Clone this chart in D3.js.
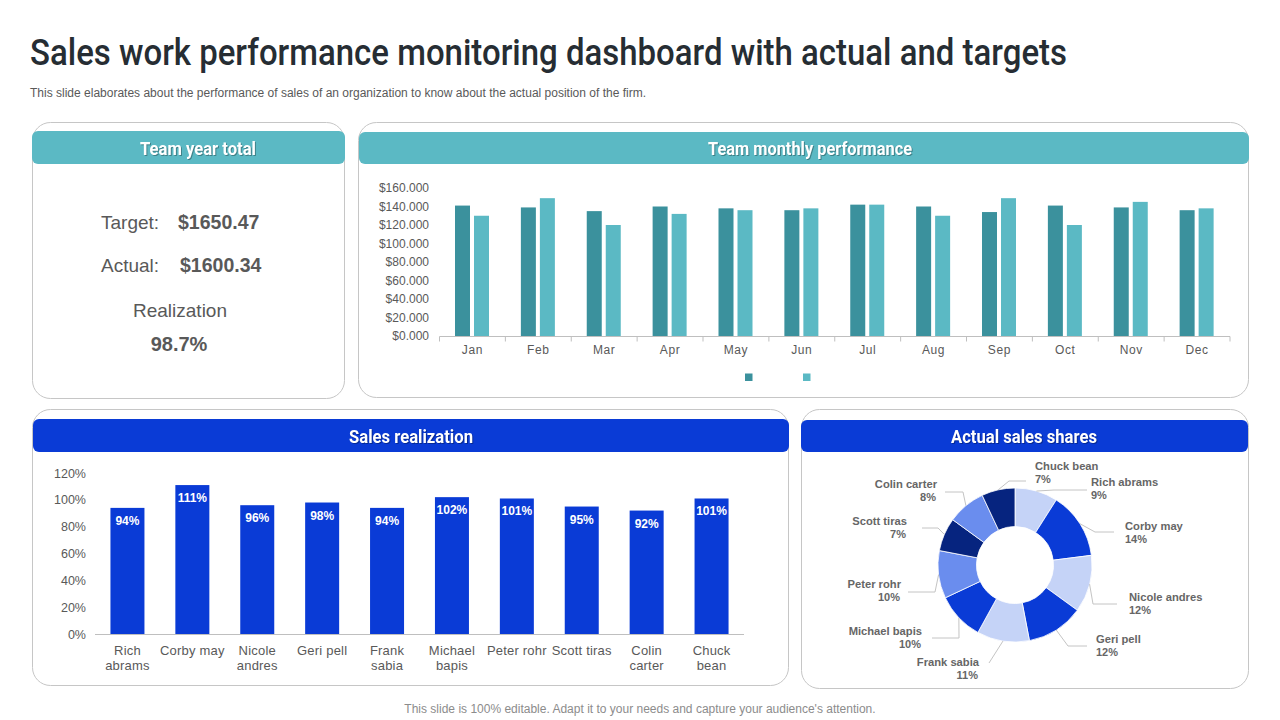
<!DOCTYPE html>
<html>
<head>
<meta charset="utf-8">
<script src="https://cdn.jsdelivr.net/npm/d3@7"></script>
<style>
	html, body { margin: 0; padding: 0; background: #fff; }
	svg { display: block; }
	text { font-family: "Liberation Sans", Arial, sans-serif; }
	.heading { font-family: Roboto, sans-serif; }
	.axis text { fill: #595959; }
	.axis .domain { stroke: #bfbfbf; }
</style>
</head>
<body>
<svg id="slide" width="1280" height="720"></svg>
<script>
// Monthly performance, in thousands
var months = ["Jan", "Feb", "Mar", "Apr", "May", "Jun", "Jul", "Aug", "Sep", "Oct", "Nov", "Dec"];
var targetValues = [141, 139, 135, 140, 138, 136, 142, 140, 134, 141, 139, 136];
var actualValues = [130, 149, 120, 132, 136, 138, 142, 130, 149, 120, 145, 138];
var monthlyTicks = [0, 20, 40, 60, 80, 100, 120, 140, 160];

// Sales realization, \n marks the axis label wrap
var people = ["Rich\nabrams", "Corby may", "Nicole\nandres", "Geri pell", "Frank\nsabia",
	"Michael\nbapis", "Peter rohr", "Scott tiras", "Colin\ncarter", "Chuck\nbean"];
var realization = [94, 111, 96, 98, 94, 102, 101, 95, 92, 101];
var realizationTicks = [0, 20, 40, 60, 80, 100, 120];

// Actual sales shares
var shares = [9, 14, 12, 12, 11, 10, 10, 7, 8, 7];
var shareColors = ["#c5d3f7", "#0a3bd6", "#c5d3f7", "#0a3bd6", "#c5d3f7",
	"#0a3bd6", "#6a8dee", "#06247f", "#6a8dee", "#06247f"];

// Where each donut label and its leader line sit
var shareLabelLayout = [
	{ x: 1091, y: 482, anchor: "start", elbow: [1054, 490], end: [1087, 490] },
	{ x: 1125, y: 526, anchor: "start", elbow: [1095, 532], end: [1114, 532] },
	{ x: 1129, y: 597, anchor: "start", elbow: [1093, 604], end: [1117, 604] },
	{ x: 1096, y: 639, anchor: "start", elbow: [1068, 646], end: [1087, 646] },
	{ x: 979, y: 662, anchor: "end", elbow: [989, 663], end: [989, 663] },
	{ x: 922, y: 631, anchor: "end", elbow: [959, 638], end: [932, 638] },
	{ x: 901, y: 584, anchor: "end", elbow: [935, 592], end: [908, 592] },
	{ x: 907, y: 521, anchor: "end", elbow: [938, 528], end: [922, 528] },
	{ x: 937, y: 484, anchor: "end", elbow: [963, 492], end: [945, 492] },
	{ x: 1035, y: 466, anchor: "start", elbow: [1009, 481], end: [1026, 481] }
];

var TEAL = "#5bb9c4", TEAL_DARK = "#3b919d", BLUE = "#0a3bd6", GREY = "#595959";

var svg = d3.select("#slide");

function addText(x, y, str, opts) {
	var t = svg.append("text")
		.attr("x", x)
		.attr("y", y)
		.attr("fill", opts.fill || GREY)
		.attr("font-size", opts.size)
		.attr("font-weight", opts.weight || "normal")
		.attr("text-anchor", opts.anchor || "start")
		.attr("class", opts.cls || null)
		.text(str);
	if (opts.length) {
		t.attr("textLength", opts.length).attr("lengthAdjust", "spacingAndGlyphs");
	}
	return t;
}

function panel(x, y, w, h) {
	svg.append("rect")
		.attr("x", x).attr("y", y).attr("width", w).attr("height", h)
		.attr("rx", 18)
		.attr("fill", "#fff")
		.attr("stroke", "#c6c6c6");
}

function header(x, y, w, h, color, label, labelX, labelWidth) {
	svg.append("rect")
		.attr("x", x).attr("y", y).attr("width", w).attr("height", h)
		.attr("rx", 6)
		.attr("fill", color);
	addText(labelX, y + h / 2 + 7, label, {
		fill: "#fff", size: 18, weight: 700, cls: "heading", length: labelWidth
	}).style("filter", "drop-shadow(1px 1px 0.5px rgba(0,0,0,0.3))");
}

addText(30, 65, "Sales work performance monitoring dashboard with actual and targets", {
	fill: "#262d33", size: 37, weight: 500, cls: "heading", length: 1037
});
addText(30, 97, "This slide elaborates about the performance of sales of an organization to know about the actual position of the firm.", {
	size: 12, length: 616
});
addText(640, 713, "This slide is 100% editable. Adapt it to your needs and capture your audience's attention.", {
	fill: "#8c8c8c", size: 12, anchor: "middle"
});

panel(32.5, 122.5, 312, 276);
panel(358.5, 122.5, 890, 275);
panel(32.5, 409.5, 756, 276);
panel(801.5, 409.5, 447, 279);

header(32, 131, 313, 33, TEAL, "Team year total", 140, 116);
header(359, 132, 890, 32, TEAL, "Team monthly performance", 708, 204);
header(33, 419, 756, 33, BLUE, "Sales realization", 349, 124);
header(801, 420, 447, 32, BLUE, "Actual sales shares", 951, 146);

// Team year total
addText(101, 229, "Target:", { size: 19 });
addText(178, 229, "$1650.47", { size: 19.5, weight: 700 });
addText(101, 272, "Actual:", { size: 19 });
addText(180, 272, "$1600.34", { size: 19.5, weight: 700 });
addText(180, 317, "Realization", { size: 19, anchor: "middle" });
addText(179, 351, "98.7%", { size: 20, weight: 700, anchor: "middle" });

// Team monthly performance
var monthX = d3.scaleBand().domain(months).range([439.5, 1230]);
var monthY = d3.scaleLinear().domain([0, 160]).range([336, 188]);

var monthAxisY = svg.append("g")
	.attr("class", "axis")
	.attr("transform", "translate(432,0)")
	.call(d3.axisLeft(monthY).tickValues(monthlyTicks).tickSize(0)
		.tickFormat(function(d) { return "$" + d3.format(".3f")(d); }));
monthAxisY.select(".domain").remove();
monthAxisY.selectAll("text").attr("font-size", 12).attr("font-family", "Liberation Sans");

var monthAxisX = svg.append("g")
	.attr("class", "axis")
	.attr("transform", "translate(0,336.5)")
	.call(d3.axisBottom(monthX).tickSize(0).tickPadding(9));
monthAxisX.select(".domain").attr("d", "M439.5,0H1230");
monthAxisX.selectAll("text").attr("font-size", 12).attr("font-family", "Liberation Sans").style("letter-spacing", "0.6px");

// tick marks sit between the months
monthAxisX.selectAll(".edge")
	.data(months.concat(["end"]))
	.enter().append("line")
	.attr("class", "edge")
	.attr("x1", function(d, i) { return 439.5 + i * monthX.step(); })
	.attr("x2", function(d, i) { return 439.5 + i * monthX.step(); })
	.attr("y1", 0)
	.attr("y2", 5)
	.attr("stroke", "#bfbfbf");

function monthBars(values, color, offset) {
	svg.append("g").selectAll("rect")
		.data(values)
		.enter().append("rect")
		.attr("x", function(d, i) { return monthX(months[i]) + offset; })
		.attr("y", function(d) { return monthY(d); })
		.attr("width", 15)
		.attr("height", function(d) { return monthY(0) - monthY(d); })
		.attr("fill", color);
}
monthBars(targetValues, TEAL_DARK, 15.5);
monthBars(actualValues, TEAL, 34.5);

svg.append("g").selectAll("rect")
	.data([TEAL_DARK, TEAL])
	.enter().append("rect")
	.attr("x", function(d, i) { return 745 + i * 58; })
	.attr("y", 373.5)
	.attr("width", 7.5)
	.attr("height", 7.5)
	.attr("fill", function(d) { return d; });

// Sales realization
var salesX = d3.scaleBand().domain(people).range([95, 744]);
var salesY = d3.scaleLinear().domain([0, 120]).range([634, 473]);

var salesAxisY = svg.append("g")
	.attr("class", "axis")
	.attr("transform", "translate(89,0)")
	.call(d3.axisLeft(salesY).tickValues(realizationTicks).tickSize(0)
		.tickFormat(function(d) { return d + "%"; }));
salesAxisY.select(".domain").remove();
salesAxisY.selectAll("text").attr("font-size", 12.5).attr("font-family", "Liberation Sans");

var salesAxisX = svg.append("g")
	.attr("class", "axis")
	.attr("transform", "translate(0,634.5)")
	.call(d3.axisBottom(salesX).tickSize(0).tickFormat(""));
salesAxisX.select(".domain").attr("d", "M95,0H744");

salesAxisX.selectAll(".tick text").each(function(d) {
	var label = d3.select(this)
		.attr("y", 0)
		.attr("dy", 0)
		.attr("font-size", 13)
		.attr("font-family", "Liberation Sans")
		.style("letter-spacing", "0.2px");
	d.split("\n").forEach(function(line, i) {
		label.append("tspan")
			.attr("x", 0)
			.attr("y", 20 + i * 15)
			.text(line);
	});
});

svg.append("g").selectAll("rect")
	.data(realization)
	.enter().append("rect")
	.attr("x", function(d, i) { return salesX(people[i]) + salesX.bandwidth() / 2 - 17; })
	.attr("y", function(d) { return salesY(d); })
	.attr("width", 34)
	.attr("height", function(d) { return salesY(0) - salesY(d); })
	.attr("fill", BLUE);

svg.append("g").selectAll("text")
	.data(realization)
	.enter().append("text")
	.attr("x", function(d, i) { return salesX(people[i]) + salesX.bandwidth() / 2; })
	.attr("y", function(d) { return salesY(d) + 17; })
	.attr("text-anchor", "middle")
	.attr("font-size", 12)
	.attr("font-weight", 700)
	.attr("fill", "#fff")
	.text(function(d) { return d + "%"; });

// Actual sales shares
var donut = svg.append("g").attr("transform", "translate(1015,565)");
var pieData = d3.pie().sort(null)(shares);
var arc = d3.arc().innerRadius(38.5).outerRadius(77);

donut.selectAll("path")
	.data(pieData)
	.enter().append("path")
	.attr("d", arc)
	.attr("fill", function(d, i) { return shareColors[i]; })
	.attr("stroke", "#fff")
	.attr("stroke-width", 0.8);

pieData.forEach(function(d, i) {
	var layout = shareLabelLayout[i];
	var mid = (d.startAngle + d.endAngle) / 2;
	var startX = 1015 + Math.sin(mid) * 77;
	var startY = 565 - Math.cos(mid) * 77;

	svg.append("path")
		.attr("d", d3.line()([[startX, startY], layout.elbow, layout.end]))
		.attr("fill", "none")
		.attr("stroke", "#c4c4c4");

	var name = people[i].replace("\n", " ");
	addText(layout.x, layout.y + 4, name, { size: 11.2, weight: 700, fill: "#666", anchor: layout.anchor });
	addText(layout.anchor == "end" ? layout.x - 1 : layout.x, layout.y + 17, shares[i] + "%", {
		size: 11, weight: 700, fill: "#666", anchor: layout.anchor
	});
});
</script>
</body>
</html>
